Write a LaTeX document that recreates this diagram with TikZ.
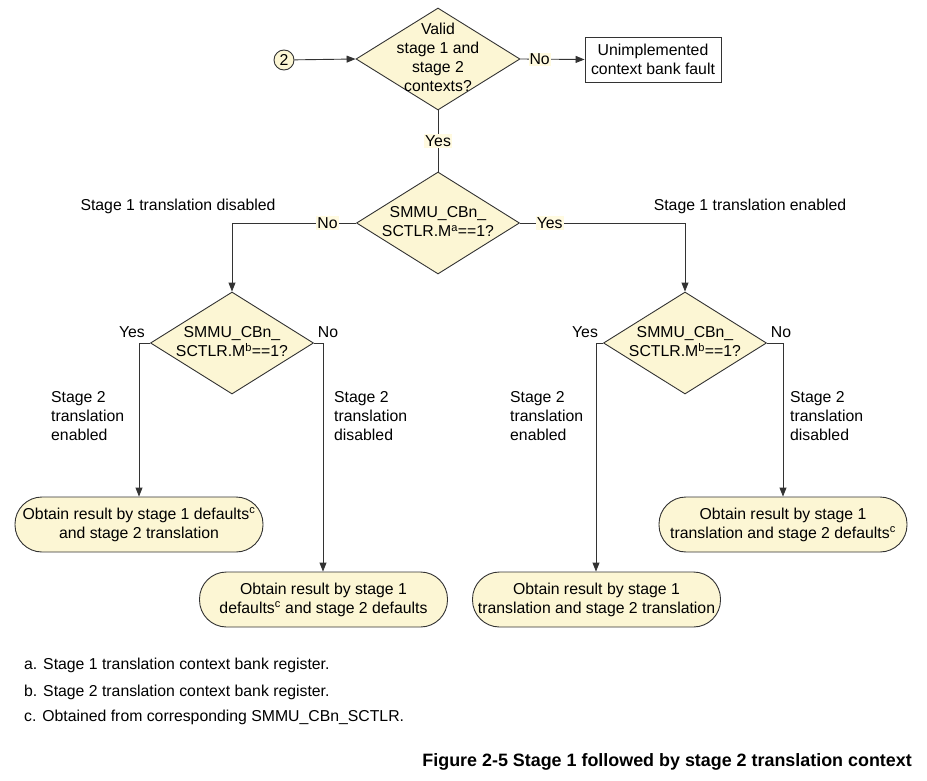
\documentclass[tikz,border=0pt]{standalone}
\usepackage{fontspec}
\setmainfont{Liberation Sans}
\usetikzlibrary{shapes.geometric,arrows.meta}
\definecolor{fillY}{HTML}{FCF6D4}
\definecolor{lblY}{HTML}{FFFAE0}
\definecolor{lineC}{HTML}{333333}
\tikzset{
  x=1pt,y=-1pt,
  every node/.style={font=\fontsize{15.8}{19}\selectfont, text=black},
  dia/.style={diamond, draw=lineC, fill=fillY, inner sep=0pt, line width=0.9pt},
  conn/.style={draw=lineC, line width=0.9pt},
  arr/.style={conn, -{Triangle[length=9pt,width=7pt]}},
  lbl/.style={fill=lblY, inner sep=1pt},
  plain/.style={align=left, inner sep=0pt},
  resbox/.style={draw=lineC, fill=fillY, rounded corners=27pt, minimum width=248pt, minimum height=55pt, align=center, inner sep=0pt, line width=0.9pt},
}
\begin{document}
\begin{tikzpicture}
\useasboundingbox (0,0) rectangle (927,781);
% top
\node[circle, draw=lineC, fill=fillY, minimum size=20pt, inner sep=0pt, line width=0.9pt] (c2) at (284,60) {2};
\node[dia, minimum width=164pt, minimum height=102pt] (d1) at (438,59) {};
\node[align=center, inner sep=0pt] (t1) at (438,57) {Valid\\stage 1 and\\stage 2\\contexts?};
\node[draw=lineC, line width=0.9pt, minimum width=136pt, minimum height=45pt, align=center, inner sep=0pt] (fault) at (653,59.5) {Unimplemented\\context bank fault};
\draw[arr] (c2) -- (d1.west);
\draw[arr] (d1.east) -- node[lbl, pos=0.3] {No} (fault.west);

% second decision
\node[dia, minimum width=163pt, minimum height=102pt] (d2) at (438,223) {};
\node[align=center, inner sep=0pt] (t2) at (438,221.5) {SMMU\_CBn\_\\SCTLR.M\textsuperscript{a}==1?};
\draw[conn] (d1.south) -- node[lbl] {Yes} (d2.north);

% third row decisions
\node[dia, minimum width=163pt, minimum height=102pt] (d3) at (232,343) {};
\node[align=center, inner sep=0pt] (t3) at (232,342) {SMMU\_CBn\_\\SCTLR.M\textsuperscript{b}==1?};
\node[dia, minimum width=163pt, minimum height=102pt] (d4) at (685,343) {};
\node[align=center, inner sep=0pt] (t4) at (685,342) {SMMU\_CBn\_\\SCTLR.M\textsuperscript{b}==1?};

\draw[arr] (d2.west) -| node[lbl, pos=0.115] {No} (d3.north);
\draw[arr] (d2.east) -| node[lbl, pos=0.09] {Yes} (d4.north);

\node[plain] (s1d) at (178,206) {Stage 1 translation disabled};
\node[plain] (s1e) at (750,206) {Stage 1 translation enabled};

% result boxes
\node[resbox] (r1) at (139,524.5) {Obtain result by stage 1 defaults\textsuperscript{c}\\and stage 2 translation};
\node[resbox] (r2) at (323.5,599.5) {Obtain result by stage 1\\defaults\textsuperscript{c} and stage 2 defaults};
\node[resbox] (r3) at (596.5,599.5) {Obtain result by stage 1\\translation and stage 2 translation};
\node[resbox] (r4) at (783,524.5) {Obtain result by stage 1\\translation and stage 2 defaults\textsuperscript{c}};

\coordinate (k1) at (139,343);
\coordinate (k2) at (323,343);
\coordinate (k3) at (596,343);
\coordinate (k4) at (783,343);
\draw[conn] (d3.west) -- (k1);
\draw[arr] (k1) -- (r1.north);
\draw[conn] (d3.east) -- (k2);
\draw[arr] (k2) -- (k2 |- r2.north);
\draw[conn] (d4.west) -- (k3);
\draw[arr] (k3) -- (k3 |- r3.north);
\draw[conn] (d4.east) -- (k4);
\draw[arr] (k4) -- (r4.north);

\node[plain] (y3) at (132,332) {Yes};
\node[plain] (n3) at (328,332) {No};
\node[plain] (y4) at (585,332) {Yes};
\node[plain] (n4) at (781,332) {No};

\node[plain, anchor=west] (e3) at (51,416) {Stage 2\\translation\\enabled};
\node[plain, anchor=west] (x3) at (334,416) {Stage 2\\translation\\disabled};
\node[plain, anchor=west] (e4) at (510,416) {Stage 2\\translation\\enabled};
\node[plain, anchor=west] (x4) at (790,416) {Stage 2\\translation\\disabled};

% footnotes
\node[plain, anchor=west] (fa) at (24,665) {a. Stage 1 translation context bank register.};
\node[plain, anchor=west] (fb) at (24,692) {b. Stage 2 translation context bank register.};
\node[plain, anchor=west] (fc) at (24,717) {c. Obtained from corresponding SMMU\_CBn\_SCTLR.};
\node[plain, anchor=east, font=\fontsize{17.9}{21}\selectfont\bfseries] (cap) at (912,762) {Figure 2-5 Stage 1 followed by stage 2 translation context};
\end{tikzpicture}
\end{document}
